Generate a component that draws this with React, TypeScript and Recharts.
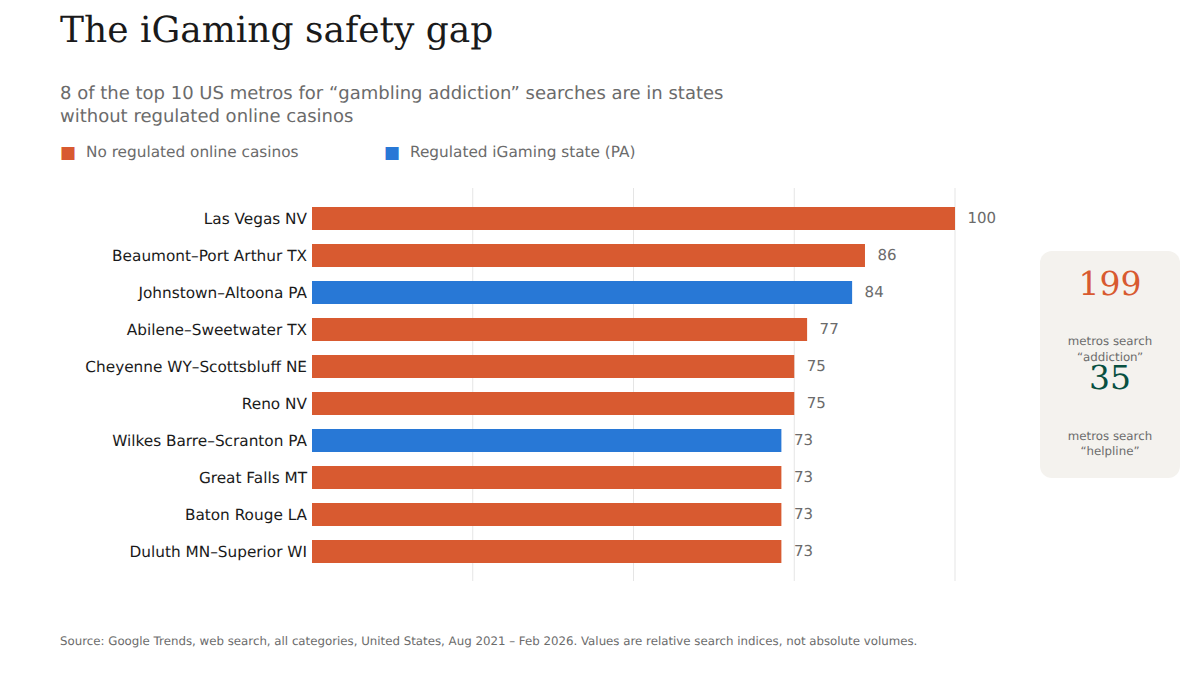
import React from 'react'
import { Bar, BarChart, CartesianGrid, Cell, LabelList, XAxis, YAxis } from 'recharts'

const metros = [
  'Las Vegas NV',
  'Beaumont–Port Arthur TX',
  'Johnstown–Altoona PA',
  'Abilene–Sweetwater TX',
  'Cheyenne WY–Scottsbluff NE',
  'Reno NV',
  'Wilkes Barre–Scranton PA',
  'Great Falls MT',
  'Baton Rouge LA',
  'Duluth MN–Superior WI',
]
const searchIndex = [100, 86, 84, 77, 75, 75, 73, 73, 73, 73]
const regulated = [false, false, true, false, false, false, true, false, false, false]
const gridTicks = [25, 50, 75, 100]

const ORANGE = '#D85A30'
const BLUE = '#2878D6'
const GREY = '#6B6B6B'
const INK = '#1A1A1A'
const SANS = '"DejaVu Sans", sans-serif'
const SERIF = '"DejaVu Serif", serif'

const chartData = metros.map((metro, i) => ({ metro, value: searchIndex[i], regulated: regulated[i] }))

function Text({ x, y, size, color = GREY, font = SANS, w, align = 'left', lh, children }: any) {
  return (
    <div
      style={{
        position: 'absolute',
        left: x,
        top: y,
        width: w,
        fontSize: size,
        color,
        fontFamily: font,
        textAlign: align,
        lineHeight: `${lh ?? Math.round(size * 1.3)}px`,
        whiteSpace: 'pre',
      }}
    >
      {children}
    </div>
  )
}

export default function App() {
  return (
    <div style={{ position: 'absolute', left: 0, top: 0, width: 1200, height: 675, background: '#fff', overflow: 'hidden', textRendering: 'geometricPrecision' }}>
      <Text x={60} y={7} size={36} color={INK} font={SERIF}>The iGaming safety gap</Text>
      <Text x={60} y={82} size={18} w={700}>{'8 of the top 10 US metros for “gambling addiction” searches are in states\nwithout regulated online casinos'}</Text>

      <Text x={60} y={142} size={17} color={ORANGE}>■</Text>
      <Text x={86} y={142} size={15.3}>No regulated online casinos</Text>
      <Text x={384} y={142} size={17} color={BLUE}>■</Text>
      <Text x={410} y={142} size={15.3}>Regulated iGaming state (PA)</Text>

      <BarChart
        width={1200}
        height={675}
        data={chartData}
        layout="vertical"
        margin={{ top: 188, right: 245, bottom: 94, left: 0 }}
        style={{ position: 'absolute', left: 0, top: 0 }}
      >
        <CartesianGrid horizontal={false} stroke="#E5E5E5" syncWithTicks />
        <XAxis type="number" domain={[0, 100]} ticks={gridTicks} hide />
        <YAxis
          type="category"
          dataKey="metro"
          width={312}
          axisLine={false}
          tickLine={false}
          tickSize={0}
          tickMargin={5}
          interval={0}
          padding={{ top: 12, bottom: 11 }}
          tick={{ fontSize: 15.3, fill: INK, fontFamily: SANS }}
        />
        <Bar dataKey="value" barSize={23} isAnimationActive={false}>
          {chartData.map((d) => (
            <Cell key={d.metro} fill={d.regulated ? BLUE : ORANGE} />
          ))}
          <LabelList dataKey="value" position="right" offset={12.5} dy={-1} style={{ fontSize: 15, fill: GREY, fontFamily: SANS }} />
        </Bar>
      </BarChart>

      <div style={{ position: 'absolute', left: 1040, top: 251, width: 140, height: 227, background: '#F4F2EE', borderRadius: 12 }} />
      <Text x={1040} y={262} w={140} size={33} color={ORANGE} font={SERIF} align="center">199</Text>
      <Text x={1040} y={333} w={140} size={11.8} lh={16} align="center">{'metros search\n“addiction”'}</Text>
      <Text x={1040} y={356} w={140} size={33} color="#085041" font={SERIF} align="center">35</Text>
      <Text x={1040} y={428.5} w={140} size={11.8} lh={15.5} align="center">{'metros search\n“helpline”'}</Text>

      <Text x={60} y={634} size={11.8}>Source: Google Trends, web search, all categories, United States, Aug 2021 – Feb 2026. Values are relative search indices, not absolute volumes.</Text>
    </div>
  )
}
